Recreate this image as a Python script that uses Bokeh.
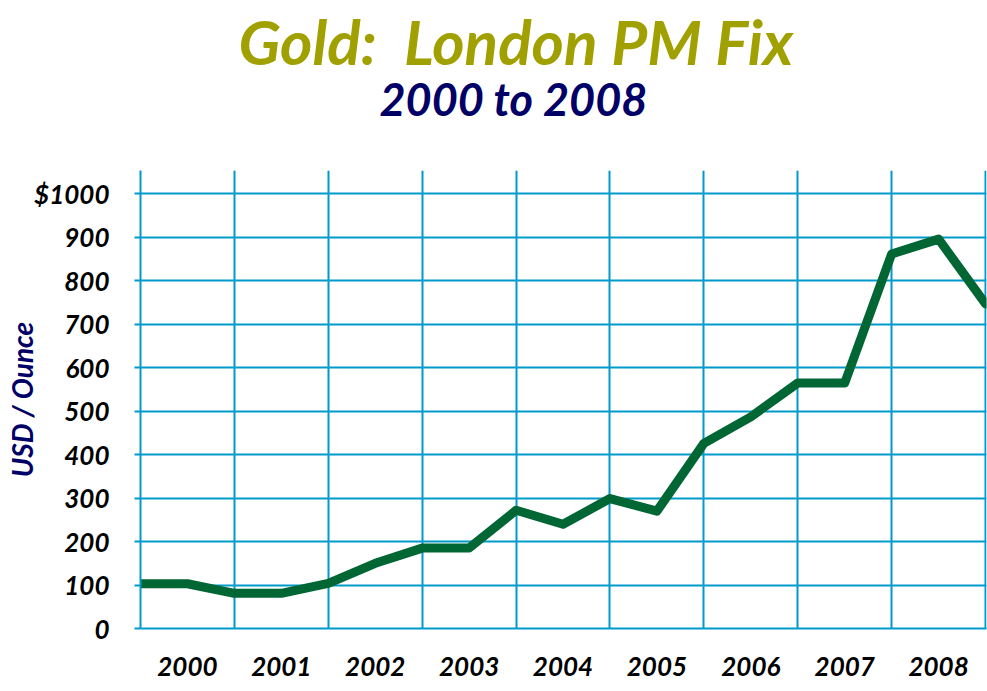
from bokeh.plotting import figure
from bokeh.models import Range1d, FixedTicker, Title, LinearAxis
from bokeh.embed import file_html
from bokeh.resources import INLINE

# Data: half-year points, London PM fix, USD/oz
x_years = [2000.0, 2000.5, 2001.0, 2001.5, 2002.0, 2002.5, 2003.0, 2003.5, 2004.0,
           2004.5, 2005.0, 2005.5, 2006.0, 2006.5, 2007.0, 2007.5, 2008.0, 2008.5, 2009.0]
price = [103, 103, 81, 81, 104, 150, 185, 185, 272,
         240, 299, 270, 426, 487, 565, 565, 862, 896, 747]

year_labels = ["2000", "2001", "2002", "2003", "2004", "2005", "2006", "2007", "2008"]
year_label_pos = [2000.5, 2001.5, 2002.5, 2003.5, 2004.5, 2005.5, 2006.5, 2007.5, 2008.5]
year_grid = [2001, 2002, 2003, 2004, 2005, 2006, 2007, 2008, 2009]
y_ticks = [0, 100, 200, 300, 400, 500, 600, 700, 800, 900, 1000]
y_tick_labels = ["0", "100", "200", "300", "400", "500", "600", "700", "800", "900", "$1000"]

FONT = "Lato"
GRID = "#0099CC"

p = figure(width=987, height=691, output_backend="svg", toolbar_location=None,
           x_range=Range1d(2000, 2009.01), y_range=Range1d(0, 1054),
           min_border_left=140, min_border_right=1, min_border_bottom=63,
           min_border_top=170)
p.title = None
p.outline_line_color = None
p.background_fill_color = "white"
p.border_fill_color = "white"

# grid
p.xgrid.ticker = FixedTicker(ticks=year_grid)
p.xgrid.grid_line_color = GRID
p.xgrid.grid_line_width = 2
p.ygrid.ticker = FixedTicker(ticks=y_ticks)
p.ygrid.grid_line_color = GRID
p.ygrid.grid_line_width = 2

# x axis (bottom)
xax = p.below[0]
xax.ticker = FixedTicker(ticks=year_label_pos)
xax.major_label_overrides = {pos: lab for pos, lab in zip(year_label_pos, year_labels)}
xax.major_tick_line_color = None
xax.major_tick_in = 0
xax.major_tick_out = 0
xax.minor_tick_line_color = None
xax.axis_line_color = GRID
xax.axis_line_width = 2
xax.major_label_standoff = 28
xax.major_label_text_font = FONT
xax.major_label_text_font_size = "26px"
xax.major_label_text_font_style = "bold italic"
xax.major_label_text_color = "black"

# y axis
yax = p.left[0]
yax.ticker = FixedTicker(ticks=y_ticks)
yax.major_label_overrides = {t: lab for t, lab in zip(y_ticks, y_tick_labels)}
yax.major_tick_in = 0
yax.major_tick_out = 6
yax.major_tick_line_color = GRID
yax.major_tick_line_width = 2
yax.minor_tick_line_color = None
yax.axis_line_color = GRID
yax.axis_line_width = 2
yax.major_label_standoff = 25
yax.major_label_text_font = FONT
yax.major_label_text_font_size = "26px"
yax.major_label_text_font_style = "bold italic"
yax.major_label_text_color = "black"
yax.axis_label = "USD / Ounce"
yax.axis_label_standoff = -8
yax.axis_label_text_font = FONT
yax.axis_label_text_font_size = "28px"
yax.axis_label_text_font_style = "bold italic"
yax.axis_label_text_color = "#000066"

# blank spacer between the titles and the plot area (white tick on white border)
spacer = LinearAxis(ticker=FixedTicker(ticks=[2000.0]), major_tick_in=0, major_tick_out=52,
                    major_tick_line_color="white", major_tick_line_width=1,
                    axis_line_color=None, minor_tick_line_color=None,
                    major_label_text_color=None)
p.add_layout(spacer, "above")

sub = Title(text="2000 to 2008", align="left", offset=239, text_font=FONT,
            text_font_size="45px", text_font_style="bold italic",
            text_color="#000066", standoff=-14)
p.add_layout(sub, "above")
main = Title(text="Gold:\u00a0 London PM Fix", align="left", offset=98, text_font=FONT,
             text_font_size="62px", text_font_style="bold italic",
             text_color="#A0A000", standoff=-2)
p.add_layout(main, "above")

p.line(x_years, price, line_color="#006633", line_width=9,
       line_cap="round", line_join="round")

open("out.html", "w").write(file_html(p, INLINE))
